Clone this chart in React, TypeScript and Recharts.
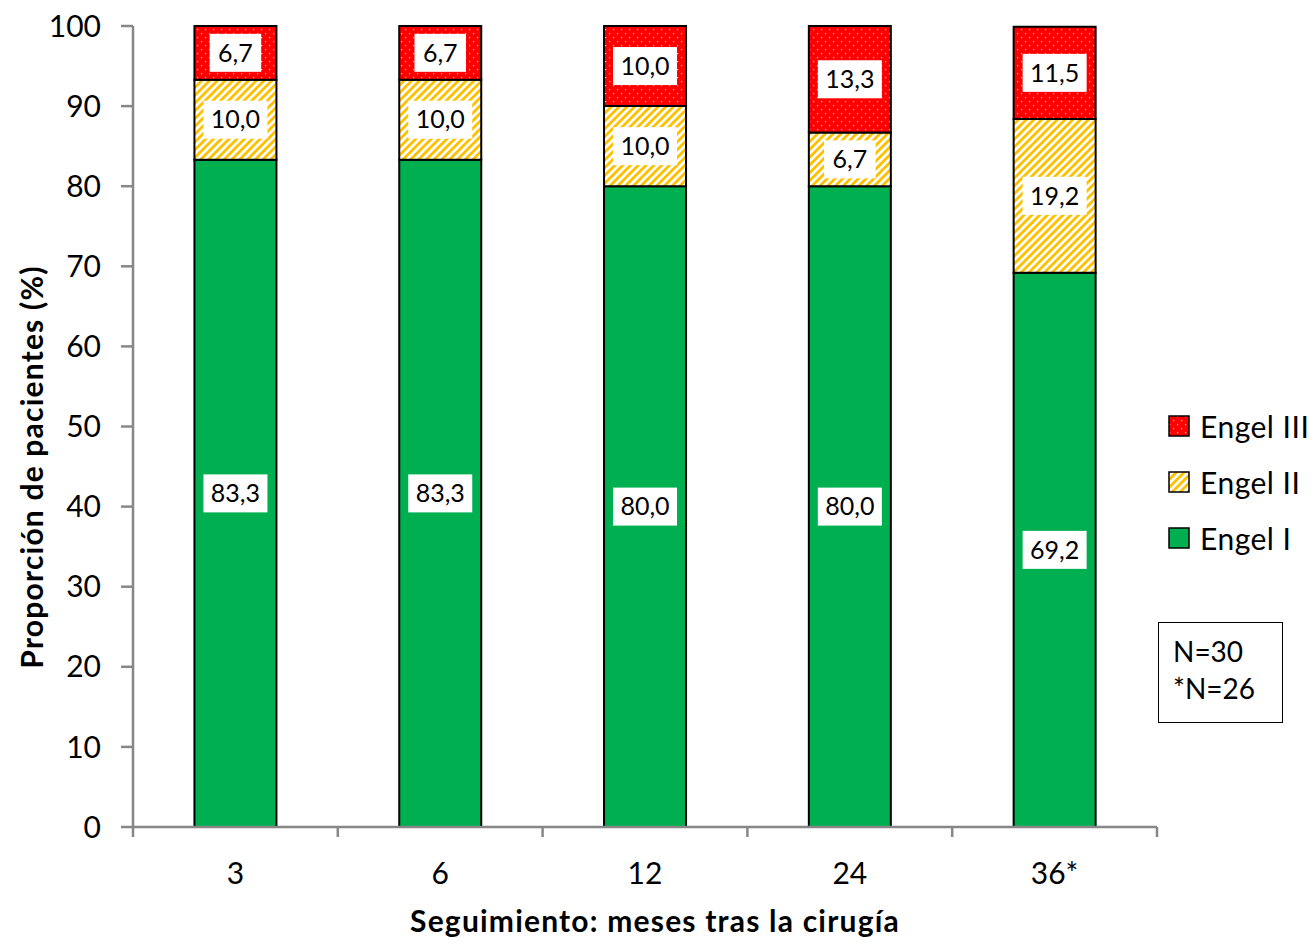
import React from "react";
import {
  BarChart,
  Bar,
  XAxis,
  YAxis,
  Legend,
  LabelList,
  Customized,
} from "recharts";

const months = ["3", "6", "12", "24", "36*"];
const engelI = [83.3, 83.3, 80.0, 80.0, 69.2];
const engelII = [10.0, 10.0, 10.0, 6.7, 19.2];
const engelIII = [6.7, 6.7, 10.0, 13.3, 11.5];
const yTicks = [0, 10, 20, 30, 40, 50, 60, 70, 80, 90, 100];

const data = months.map((m, i) => ({
  month: m,
  engelI: engelI[i],
  engelII: engelII[i],
  engelIII: engelIII[i],
}));

const FONT = "Lato, 'Open Sans', sans-serif";
const W = 1307;
const H = 940;
const M = { top: 18, right: 158, left: 0, bottom: 0 };
const Y_AXIS_W = 125;
const X_AXIS_H = 121;
const PLOT_W = W - M.left - M.right - Y_AXIS_W;
const AXIS_Y = H - M.bottom - X_AXIS_H;
const BAND = PLOT_W / months.length;
const GRAY = "#878787";

const fmt = (v: number) => v.toFixed(1).replace(".", ",");

const BoxLabel = (props: any) => {
  const vb = props.viewBox || props;
  const x = props.x ?? vb.x;
  const y = props.y ?? vb.y;
  const width = props.width ?? vb.width;
  const height = props.height ?? vb.height;
  const text = fmt(Number(props.value));
  const fs = 25;
  const tw = text.length * fs * 0.5;
  const bw = tw + 14;
  const bh = 38;
  const cx = x + width / 2;
  const cy = y + height / 2;
  return (
    <g>
      <rect x={cx - bw / 2} y={cy - bh / 2} width={bw} height={bh} fill="#fff" />
      <text
        x={cx}
        y={cy}
        dy="0.35em"
        textAnchor="middle"
        fontSize={fs}
        fontFamily={FONT}
        fill="#000"
      >
        {text}
      </text>
    </g>
  );
};

const XTick = (props: any) => {
  const { x, payload, index } = props;
  return (
    <g>
      <line
        x1={x + BAND / 2}
        x2={x + BAND / 2}
        y1={AXIS_Y}
        y2={AXIS_Y + 10}
        stroke={GRAY}
        strokeWidth={2.5}
      />
      {index === 0 && (
        <line
          x1={x - BAND / 2}
          x2={x - BAND / 2}
          y1={AXIS_Y}
          y2={AXIS_Y + 10}
          stroke={GRAY}
          strokeWidth={2.5}
        />
      )}
      <text
        x={x}
        y={AXIS_Y + 57}
        textAnchor="middle"
        fontSize={30}
        fontFamily={FONT}
        fill="#000"
      >
        {payload.value}
      </text>
    </g>
  );
};

const legendItems = [
  { label: "Engel III", fill: "url(#dots)" },
  { label: "Engel II", fill: "url(#stripes)" },
  { label: "Engel I", fill: "#00B050" },
];

const LegendBox = () => (
  <div style={{ fontFamily: FONT, fontSize: 30, letterSpacing: 0.5 }}>
    {legendItems.map((it) => (
      <div
        key={it.label}
        style={{ display: "flex", alignItems: "center", height: 56 }}
      >
        <svg width={22} height={22} style={{ marginRight: 10 }}>
          <rect
            x={1}
            y={1}
            width={20}
            height={20}
            fill={it.fill}
            stroke="#000"
            strokeWidth={1.5}
          />
        </svg>
        <span>{it.label}</span>
      </div>
    ))}
  </div>
);

const Titles = () => (
  <g fontFamily={FONT} fontWeight="bold" fontSize={30} fill="#000" letterSpacing={1.2}>
    <text x={655 - 8} y={924} textAnchor="middle">
      Seguimiento: meses tras la cirugía
    </text>
    <text
      transform={`translate(${24}, ${459}) rotate(-90)`}
      textAnchor="middle"
      dy="0.35em"
    >
      Proporción de pacientes (%)
    </text>
  </g>
);

export default function App() {
  return (
    <div style={{ position: "relative", width: W, height: H }}>
      <BarChart
        width={W}
        height={H}
        data={data}
        margin={M}
        barCategoryGap="30%"
      >
        <defs>
          <pattern id="dots" width={8} height={8} patternUnits="userSpaceOnUse">
            <rect width={8} height={8} fill="#FF0000" />
            <rect x={1} y={1} width={1.2} height={1.2} fill="#fff" opacity={0.8} />
            <rect x={5} y={5} width={1.2} height={1.2} fill="#fff" opacity={0.8} />
          </pattern>
          <pattern
            id="stripes"
            width={5.5}
            height={5.5}
            patternUnits="userSpaceOnUse"
            patternTransform="rotate(45)"
          >
            <rect width={5.5} height={5.5} fill="#fff" />
            <rect width={2.8} height={5.5} fill="#FFC000" />
          </pattern>
        </defs>
        <XAxis
          dataKey="month"
          height={X_AXIS_H}
          axisLine={{ stroke: GRAY, strokeWidth: 2.5 }}
          tickLine={false}
          tick={<XTick />}
          interval={0}
        />
        <YAxis
          width={Y_AXIS_W}
          domain={[0, 100]}
          ticks={yTicks}
          interval={0}
          tickSize={12}
          tickMargin={20}
          axisLine={{ stroke: GRAY, strokeWidth: 2.5 }}
          tickLine={{ stroke: GRAY, strokeWidth: 2.5 }}
          tick={{ fontSize: 30, fontFamily: FONT, fill: "#000" }}
        />
        <Legend
          layout="vertical"
          align="center"
          verticalAlign="middle"
          wrapperStyle={{ left: 1160, top: 390, width: 155 }}
          content={<LegendBox />}
        />
        <Bar
          dataKey="engelI"
          stackId="a"
          fill="#00B050"
          stroke="#000"
          strokeWidth={2}
          isAnimationActive={false}
        >
          <LabelList dataKey="engelI" content={BoxLabel} />
        </Bar>
        <Bar
          dataKey="engelII"
          stackId="a"
          fill="url(#stripes)"
          stroke="#000"
          strokeWidth={2}
          isAnimationActive={false}
        >
          <LabelList dataKey="engelII" content={BoxLabel} />
        </Bar>
        <Bar
          dataKey="engelIII"
          stackId="a"
          fill="url(#dots)"
          stroke="#000"
          strokeWidth={2}
          isAnimationActive={false}
        >
          <LabelList dataKey="engelIII" content={BoxLabel} />
        </Bar>
        <Customized component={Titles} />
      </BarChart>
      <div
        style={{
          position: "absolute",
          left: 1150,
          top: 614,
          width: 125,
          height: 101,
          boxSizing: "border-box",
          border: "1.5px solid #000",
          fontFamily: FONT,
          fontSize: 28,
          lineHeight: "37px",
          padding: "10px 0 0 14px",
        }}
      >
        <div>N=30</div>
        <div>*N=26</div>
      </div>
    </div>
  );
}
